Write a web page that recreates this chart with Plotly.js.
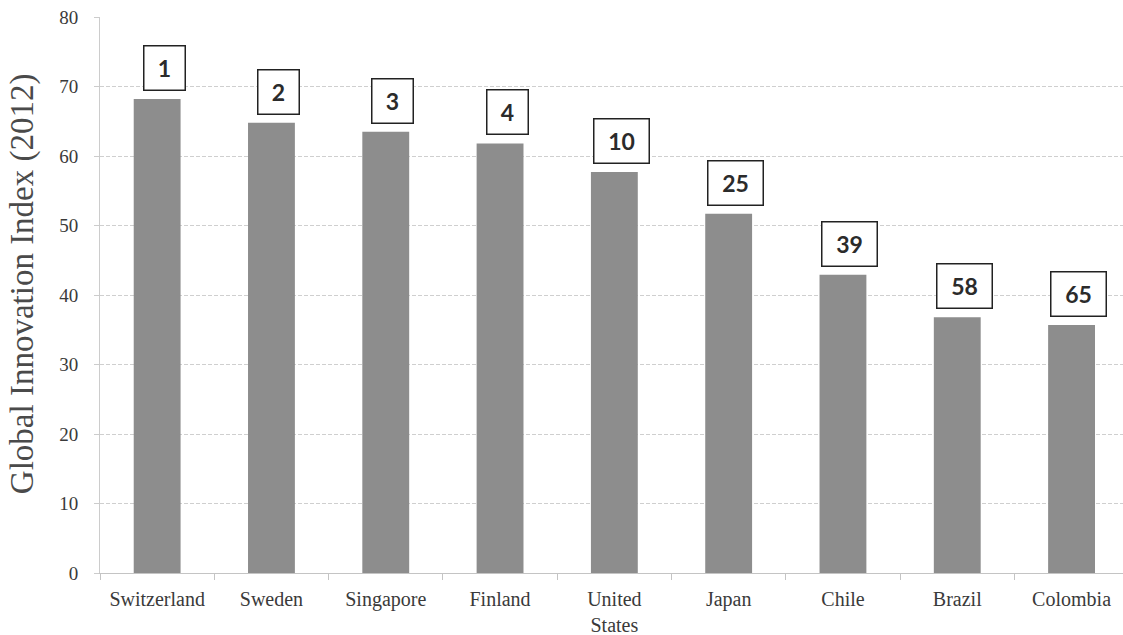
<!DOCTYPE html>
<html>
<head>
<meta charset="utf-8">
<script src="https://cdn.plot.ly/plotly-3.0.1.min.js"></script>
<style>html,body{margin:0;padding:0;background:#fff;}#chart{width:1123px;height:635px;}</style>
</head>
<body>
<div id="chart"></div>
<script>
// Data
const countries = ["Switzerland", "Sweden", "Singapore", "Finland", "United<br>States", "Japan", "Chile", "Brazil", "Colombia"];
const giiScores = [68.2, 64.8, 63.5, 61.8, 57.7, 51.7, 42.9, 36.8, 35.7];
const giiRanks = ["1", "2", "3", "4", "10", "25", "39", "58", "65"];
const yTickValues = [0, 10, 20, 30, 40, 50, 60, 70, 80];

const SERIF = "Liberation Serif, DejaVu Serif, serif";

const trace = {
  type: "bar",
  x: countries,
  y: giiScores,
  width: 0.41,
  marker: {color: "#8d8d8d", line: {width: 0}},
  hoverinfo: "x+y"
};

const annotations = countries.map((c, i) => ({
  x: c,
  y: giiScores[i],
  xref: "x",
  yref: "y",
  text: "<b>" + giiRanks[i] + "</b>",
  showarrow: false,
  xanchor: "center",
  yanchor: "bottom",
  xshift: 7,
  yshift: 8,
  width: giiRanks[i].length > 1 ? 54 : 40,
  height: 43,
  align: "center",
  valign: "middle",
  bgcolor: "#ffffff",
  bordercolor: "#222222",
  borderwidth: 1.5,
  borderpad: 0,
  font: {family: "Lato, Liberation Sans, sans-serif", size: 23, color: "#2b2b2b"}
}));

annotations.push({
  xref: "paper",
  yref: "paper",
  x: -0.075,
  y: 0.52,
  xanchor: "center",
  yanchor: "middle",
  textangle: -90,
  showarrow: false,
  text: "Global Innovation Index (2012)",
  font: {family: SERIF, size: 33, color: "#4a4a4a"}
});

const layout = {
  width: 1123,
  height: 635,
  margin: {l: 100, r: 0, t: 17, b: 62},
  paper_bgcolor: "#ffffff",
  plot_bgcolor: "#ffffff",
  showlegend: false,
  font: {family: SERIF, color: "#3a3a3a"},
  xaxis: {
    type: "category",
    range: [-0.5, 8.45],
    showgrid: false,
    showline: true,
    linecolor: "#c4c4c4",
    linewidth: 1,
    ticks: "outside",
    tickson: "boundaries",
    ticklen: 6,
    tickcolor: "#c4c4c4",
    ticklabelstandoff: 8,
    tickfont: {family: SERIF, size: 20, color: "#3a3a3a"},
    zeroline: false
  },
  yaxis: {
    range: [0, 80],
    tickvals: yTickValues,
    showgrid: true,
    gridcolor: "#cfcfcf",
    griddash: "4px,2px",
    gridwidth: 1,
    showline: true,
    linecolor: "#cccccc",
    linewidth: 1,
    ticks: "outside",
    ticklen: 5,
    tickcolor: "#cccccc",
    ticklabelstandoff: 12,
    zeroline: false,
    tickfont: {family: SERIF, size: 19, color: "#3a3a3a"}
  },
  annotations: annotations,
  bargap: 0.59
};

Plotly.newPlot("chart", [trace], layout, {displayModeBar: false, staticPlot: true});
</script>
</body>
</html>
